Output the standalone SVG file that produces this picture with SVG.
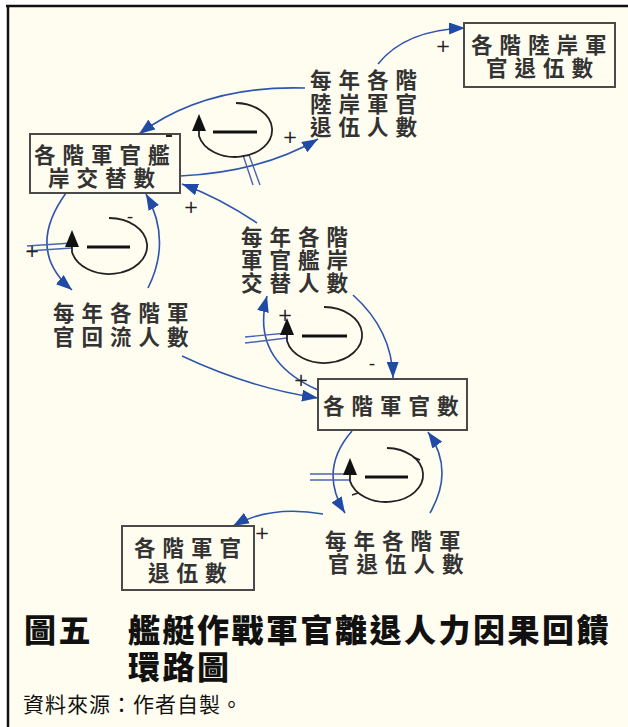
<svg xmlns="http://www.w3.org/2000/svg" width="628" height="727" viewBox="0 0 628 727">
<defs>
<marker id="ah" markerUnits="userSpaceOnUse" markerWidth="17" markerHeight="12" refX="16" refY="6" orient="auto">
<path d="M0,0 L16,6 L0,12 z" fill="#1f4aa6"/>
</marker>
<style>
.lbl{font-family:"Liberation Sans","Noto Sans CJK TC","Noto Sans CJK SC",sans-serif;font-size:21.5px;font-weight:700;letter-spacing:7px;fill:#333}
.box{fill:none;stroke:#4a4a4a;stroke-width:2}
.con{fill:none;stroke:#2f55ae;stroke-width:1.6;marker-end:url(#ah)}
.pipe{stroke:#4a64b4;stroke-width:1.4;fill:none}
.loop{fill:none;stroke:#222;stroke-width:1.8}
.minus{stroke:#111;stroke-width:3}
.sign{font-family:"DejaVu Sans",sans-serif;font-size:18px;fill:#222;text-anchor:middle}
.tick{stroke:#222;stroke-width:1.6}
.cap{font-family:"Liberation Serif","Noto Sans CJK TC",serif;font-size:32px;font-weight:900;letter-spacing:2.5px;fill:#111}
</style>
</defs>
<rect x="0" y="0" width="628" height="727" fill="#ffffff"/>
<rect x="8" y="6" width="620" height="721" fill="#fffdf0"/>
<line x1="6" y1="6" x2="628" y2="6" stroke="#111" stroke-width="2.5"/>
<line x1="8" y1="5" x2="8" y2="727" stroke="#111" stroke-width="2.5"/>

<g id="connectors">
<path class="con" d="M305,88 Q205,85 139,134"/>
<path class="con" d="M180,176 Q262,172 318,139"/>
<path class="con" d="M378,64 Q405,30 465,28"/>
<path class="con" d="M66,193 Q25,250 72,290"/>
<path class="con" d="M148,288 Q172,240 146,194"/>
<path class="con" d="M257,223 Q220,198 182,184"/>
<path class="con" d="M353,295 Q392,330 393,378"/>
<path class="con" d="M318,390 Q250,360 267,296"/>
<path class="con" d="M182,356 Q250,388 318,398"/>
<path class="con" d="M352,431 Q318,470 345,513"/>
<path class="con" d="M430,513 Q455,470 428,432"/>
<path class="con" d="M323,514 Q270,505 233,526"/>
<line class="pipe" x1="243" y1="155" x2="253" y2="185"/>
<line class="pipe" x1="249" y1="155" x2="260" y2="185"/>
<line class="pipe" x1="27" y1="246" x2="72" y2="243"/>
<line class="pipe" x1="27" y1="251" x2="72" y2="248"/>
<line class="pipe" x1="245" y1="337" x2="287" y2="333"/>
<line class="pipe" x1="245" y1="343" x2="287" y2="338"/>
<line class="pipe" x1="310" y1="474" x2="350" y2="474"/>
<line class="pipe" x1="310" y1="480" x2="350" y2="480"/>
</g>

<g id="loop1">
<path class="loop" d="M236,103 A37,27 0 1,1 199,136 L199,131"/>
<polygon points="192,131 206,131 199,114" fill="#111"/>
<line class="minus" x1="213" y1="132" x2="257" y2="132"/>
</g>
<g id="loop2">
<path class="loop" d="M109,218 A38,28 0 1,1 72,252 L72,247"/>
<polygon points="65,247 79,247 72,230" fill="#111"/>
<line class="minus" x1="87" y1="247" x2="130" y2="247"/>
</g>
<g id="loop3">
<path class="loop" d="M324,307 A38,28 0 1,1 287,341 L287,335"/>
<polygon points="280,335 294,335 287,318" fill="#111"/>
<line class="minus" x1="302" y1="336" x2="347" y2="336"/>
</g>
<g id="loop4">
<path class="loop" d="M387,448 A37,27 0 1,1 350,481 L350,475"/>
<polygon points="343,475 357,475 350,458" fill="#111"/>
<line class="minus" x1="365" y1="477" x2="408" y2="477"/>
<line class="tick" x1="413" y1="457" x2="420" y2="460"/>
<line class="tick" x1="352" y1="495" x2="358" y2="493"/>
</g>

<g id="node1">
<rect class="box" x="30" y="134" width="150" height="59"/>
<text class="lbl"><tspan x="34" y="163">各階軍官艦</tspan><tspan x="48" y="186">岸交替數</tspan></text>
<line x1="166" y1="136" x2="172" y2="136" stroke="#222" stroke-width="2"/>
</g>
<g id="node2">
<rect class="box" x="464" y="23" width="151" height="64"/>
<text class="lbl"><tspan x="471" y="53">各階陸岸軍</tspan><tspan x="486" y="76">官退伍數</tspan></text>
</g>
<g id="node3">
<rect class="box" x="318" y="379" width="149" height="51"/>
<text class="lbl" x="323" y="414">各階軍官數</text>
</g>
<g id="node4">
<rect class="box" x="122" y="526" width="132" height="64"/>
<text class="lbl"><tspan x="134" y="556">各階軍官</tspan><tspan x="148" y="581">退伍數</tspan></text>
</g>
<g id="labelA">
<text class="lbl"><tspan x="310" y="88">每年各階</tspan><tspan x="310" y="112">陸岸軍官</tspan><tspan x="310" y="135">退伍人數</tspan></text>
</g>
<g id="labelB">
<text class="lbl"><tspan x="241" y="245">每年各階</tspan><tspan x="241" y="268">軍官艦岸</tspan><tspan x="241" y="291">交替人數</tspan></text>
</g>
<g id="labelC">
<text class="lbl"><tspan x="53" y="321">每年各階軍</tspan><tspan x="53" y="345">官回流人數</tspan></text>
</g>
<g id="labelD">
<text class="lbl"><tspan x="325" y="549">每年各階軍</tspan><tspan x="328" y="572">官退伍人數</tspan></text>
</g>

<g id="signs">
<text class="sign" x="443" y="52">+</text>
<text class="sign" x="290" y="143">+</text>
<text class="sign" x="191" y="213">+</text>
<text class="sign" x="32" y="257">+</text>
<text class="sign" x="130" y="222">-</text>
<text class="sign" x="285" y="321">+</text>
<text class="sign" x="301" y="386">+</text>
<text class="sign" x="372" y="369">-</text>
<text class="sign" x="262" y="539">+</text>
</g>

<g id="caption">
<text class="cap"><tspan x="24" y="642">圖五</tspan><tspan x="128" y="642">艦艇作戰軍官離退人力因果回饋</tspan><tspan x="128" y="679">環路圖</tspan></text>
<text x="23" y="712" font-family="'Noto Sans CJK TC',sans-serif" font-size="21" letter-spacing="1" fill="#111">資料來源：作者自製。</text>
</g>
</svg>
